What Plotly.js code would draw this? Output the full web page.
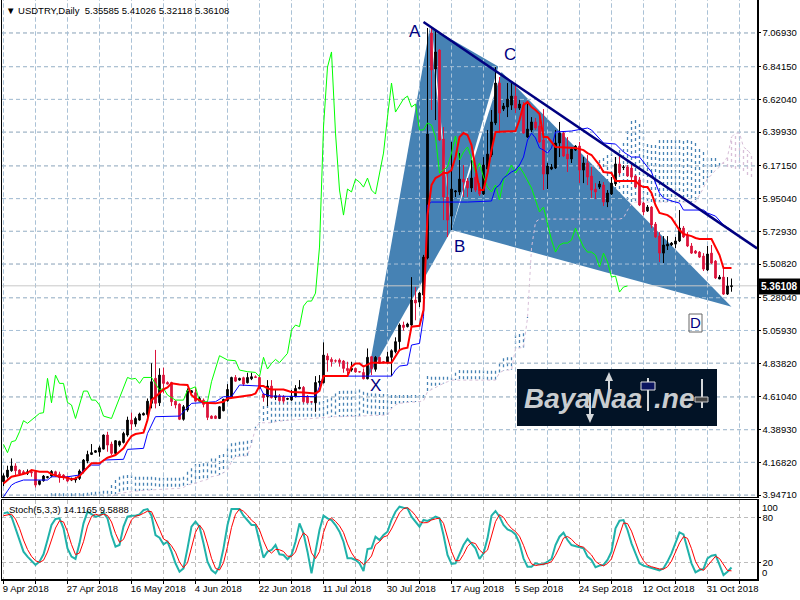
<!DOCTYPE html>
<html><head><meta charset="utf-8">
<script src="https://cdn.plot.ly/plotly-3.0.1.min.js"></script>
<style>html,body{margin:0;padding:0;background:#fff}#c{width:800px;height:600px}</style>
</head><body><div id="c"></div>
<script>
const openP=[4.038,4.071,4.112,4.144,4.116,4.105,4.094,4.105,4.105,4.020,
4.044,4.065,4.076,4.105,4.089,4.083,4.067,4.049,4.049,4.060,
4.105,4.177,4.222,4.236,4.238,4.258,4.353,4.292,4.229,4.285,
4.303,4.353,4.454,4.427,4.454,4.488,4.492,4.567,4.736,4.571,
4.758,4.708,4.708,4.582,4.562,4.459,4.522,4.639,4.639,4.582,
4.589,4.571,4.481,4.481,4.465,4.517,4.585,4.607,4.742,4.724,
4.740,4.706,4.733,4.747,4.742,4.630,4.612,4.684,4.607,4.618,
4.612,4.594,4.589,4.612,4.666,4.675,4.616,4.578,4.571,4.708,
4.706,4.887,4.864,4.855,4.860,4.853,4.803,4.792,4.803,4.781,
4.776,4.733,4.882,4.797,4.878,4.848,4.842,4.878,4.916,4.984,
5.096,5.085,5.096,5.265,5.251,5.299,5.549,7.069,6.826,6.954,
6.353,5.961,5.832,5.995,5.995,6.082,6.069,6.022,6.096,6.028,
5.981,6.150,6.245,6.461,6.731,6.555,6.569,6.582,6.643,6.562,
6.582,6.366,6.414,6.468,6.441,6.346,6.116,6.150,6.157,6.326,
6.393,6.251,6.218,6.278,6.305,6.143,6.191,6.103,6.015,6.028,
6.042,5.927,5.981,6.049,6.184,6.160,6.164,6.157,6.103,6.076,
5.920,5.866,5.893,5.778,5.697,5.582,5.630,5.637,5.643,5.664,
5.751,5.704,5.630,5.596,5.589,5.562,5.468,5.582,5.528,5.407,
5.420,5.305,5.35585];
const highP=[4.094,4.146,4.195,4.162,4.121,4.116,4.121,4.116,4.112,4.049,
4.083,4.076,4.116,4.112,4.105,4.089,4.076,4.065,4.071,4.121,
4.191,4.247,4.292,4.252,4.281,4.357,4.375,4.308,4.319,4.315,
4.375,4.477,4.504,4.477,4.504,4.506,4.600,4.838,4.928,4.804,
4.808,4.716,4.713,4.589,4.567,4.556,4.668,4.657,4.675,4.612,
4.600,4.578,4.486,4.486,4.549,4.598,4.697,4.747,4.758,4.740,
4.747,4.774,4.774,4.756,4.751,4.634,4.724,4.724,4.657,4.630,
4.623,4.605,4.657,4.690,4.724,4.684,4.623,4.582,4.751,4.758,
4.979,4.905,4.878,4.864,4.871,4.860,4.848,4.848,4.808,4.785,
4.803,4.938,4.887,4.887,4.882,4.853,4.916,4.932,5.013,5.107,
5.119,5.112,5.420,5.353,5.319,5.570,7.103,7.110,7.089,6.961,
6.434,6.123,6.333,6.008,6.258,6.177,6.089,6.211,6.164,6.055,
6.231,6.414,6.549,6.839,6.772,6.596,6.731,6.731,6.731,6.616,
6.603,6.596,6.501,6.495,6.528,6.555,6.191,6.184,6.414,6.468,
6.407,6.366,6.299,6.312,6.333,6.231,6.245,6.164,6.055,6.069,
6.062,6.008,6.096,6.231,6.238,6.177,6.177,6.177,6.109,6.096,
5.927,5.907,5.900,5.792,5.724,5.697,5.697,5.657,5.691,5.873,
5.765,5.724,5.650,5.603,5.596,5.582,5.630,5.637,5.535,5.434,
5.481,5.420,5.41026];
const lowP=[4.008,4.060,4.105,4.083,4.083,4.083,4.083,4.071,3.999,4.013,
4.038,4.060,4.067,4.071,4.031,4.049,4.035,4.042,4.031,4.049,
4.094,4.162,4.218,4.234,4.207,4.256,4.240,4.218,4.225,4.274,
4.296,4.342,4.386,4.409,4.450,4.486,4.472,4.533,4.533,4.549,
4.634,4.695,4.549,4.533,4.454,4.450,4.510,4.634,4.578,4.578,
4.540,4.454,4.461,4.461,4.461,4.513,4.578,4.600,4.713,4.720,
4.684,4.702,4.724,4.738,4.662,4.578,4.549,4.600,4.589,4.578,
4.567,4.589,4.582,4.607,4.662,4.567,4.567,4.571,4.510,4.684,
4.702,4.781,4.815,4.842,4.815,4.774,4.758,4.781,4.774,4.776,
4.729,4.729,4.758,4.781,4.833,4.837,4.837,4.751,4.905,4.927,
5.058,5.080,5.085,5.128,5.218,5.290,5.540,6.549,6.481,6.339,
5.805,5.691,5.738,5.961,5.974,5.961,5.961,5.995,5.995,5.968,
5.974,6.123,6.231,6.447,6.393,6.542,6.501,6.549,6.528,6.549,
6.387,6.360,6.400,6.414,6.326,6.008,6.015,6.143,6.150,6.231,
6.231,6.130,6.191,6.272,6.055,6.055,6.042,5.954,5.947,6.015,
5.900,5.893,5.974,6.035,6.109,6.143,6.096,6.076,6.022,5.900,
5.839,5.860,5.751,5.684,5.522,5.515,5.603,5.630,5.616,5.657,
5.684,5.623,5.576,5.576,5.549,5.461,5.461,5.508,5.407,5.407,
5.299,5.299,5.32118];
const closeP=[4.078,4.116,4.144,4.112,4.089,4.094,4.105,4.098,4.015,4.044,
4.076,4.071,4.107,4.083,4.065,4.067,4.042,4.060,4.060,4.110,
4.184,4.222,4.234,4.247,4.267,4.353,4.285,4.229,4.315,4.310,
4.364,4.454,4.427,4.465,4.495,4.499,4.582,4.713,4.567,4.758,
4.702,4.697,4.578,4.556,4.459,4.544,4.652,4.652,4.582,4.600,
4.560,4.472,4.465,4.465,4.544,4.594,4.661,4.742,4.717,4.736,
4.697,4.742,4.747,4.742,4.668,4.607,4.684,4.605,4.618,4.585,
4.582,4.600,4.616,4.668,4.675,4.578,4.571,4.576,4.708,4.717,
4.893,4.860,4.848,4.853,4.844,4.803,4.788,4.803,4.779,4.779,
4.733,4.878,4.803,4.878,4.837,4.846,4.882,4.923,4.984,5.096,
5.080,5.103,5.265,5.245,5.312,5.555,6.387,6.819,6.941,6.346,
5.961,5.805,6.015,6.002,6.082,6.062,6.022,6.089,6.008,5.981,
6.177,6.251,6.468,6.731,6.528,6.576,6.623,6.643,6.562,6.589,
6.393,6.420,6.468,6.427,6.333,6.116,6.170,6.164,6.326,6.393,
6.238,6.218,6.285,6.305,6.143,6.191,6.096,6.008,5.995,6.049,
5.927,5.988,6.055,6.184,6.123,6.164,6.103,6.096,6.028,5.907,
5.860,5.893,5.772,5.691,5.582,5.637,5.643,5.650,5.664,5.751,
5.691,5.630,5.582,5.582,5.555,5.474,5.576,5.515,5.414,5.420,
5.305,5.360,5.36108];

const redIdx=[0,2,4,6,7,9,11,12,14,16,17,18,19,20,21,22,24,25,26,28,29,30,31,32,33,35,36,37,38,39,40,41,42,44,46,47,48,49,50,53,55,56,58,60,62,63,64,65,66,67,70,71,72,75,78,79,80,86,87,88,89,90,91,92,97,98,99,100,101,102,104,105,106,107,108,109,110,111,112,113,114,115,116,117,118,119,120,121,122,123,128,129,130,131,132,133,134,135,136,137,138,143,144,145,146,147,148,149,150,152,153,158,159,160,161,162,163,164,166,167,168,169,170,171,172,173,174,177,178,179,180,182];
const redVal=[4.026,4.071,4.083,4.098,4.116,4.105,4.105,4.089,4.071,4.065,4.053,4.060,4.076,4.105,4.139,4.162,4.162,4.184,4.200,4.218,4.240,4.263,4.308,4.346,4.360,4.369,4.454,4.589,4.612,4.634,4.661,4.675,4.702,4.695,4.691,4.623,4.600,4.589,4.571,4.567,4.578,4.600,4.607,4.616,4.623,4.634,4.684,4.684,4.668,4.661,4.661,4.652,4.643,4.641,4.634,4.652,4.751,4.751,4.815,4.837,4.837,4.815,4.826,4.842,4.842,4.882,4.927,4.938,4.943,5.085,5.091,5.197,5.839,6.042,6.089,6.103,6.123,6.123,6.143,6.231,6.366,6.393,6.380,6.312,6.157,6.008,6.008,6.123,6.278,6.400,6.407,6.481,6.582,6.603,6.569,6.549,6.522,6.366,6.366,6.333,6.299,6.292,6.285,6.278,6.258,6.245,6.211,6.177,6.130,6.123,6.069,6.069,6.042,6.028,6.028,5.988,5.907,5.853,5.839,5.819,5.778,5.738,5.711,5.704,5.697,5.684,5.677,5.677,5.623,5.569,5.481,5.481];

const blueIdx=[0,2,3,5,11,12,16,19,20,22,24,25,30,31,35,36,38,44,47,53,55,57,59,64,65,66,67,78,79,80,97,98,99,101,102,104,105,106,107,116,122,123,124,125,126,127,128,129,130,131,132,133,134,135,136,137,138,142,146,147,150,153,155,157,159,160,162,163,164,165,167,169,170,175,176,178,179,180,182];
const blueVal=[3.936,4.015,4.031,4.049,4.049,4.071,4.071,4.083,4.116,4.150,4.150,4.184,4.189,4.256,4.263,4.364,4.477,4.481,4.567,4.578,4.612,4.612,4.691,4.684,4.630,4.623,4.616,4.612,4.679,4.751,4.751,4.792,4.819,4.826,4.961,4.972,5.152,5.907,5.927,5.927,5.934,6.022,6.042,6.089,6.109,6.130,6.143,6.177,6.231,6.346,6.393,6.360,6.292,6.278,6.258,6.292,6.400,6.407,6.427,6.414,6.326,6.319,6.265,6.231,6.231,6.197,6.130,6.055,5.988,5.954,5.934,5.920,5.873,5.873,5.853,5.832,5.805,5.772,5.738];

const greenIdx=[0,1,2,3,4,5,6,8,9,10,11,12,13,14,15,16,17,18,20,21,22,23,24,25,27,31,32,33,34,35,37,39,40,41,43,45,46,48,49,51,52,54,56,58,59,61,63,64,65,66,67,68,69,71,72,73,74,75,76,77,78,79,80,81,82,83,84,85,86,87,88,89,90,91,92,93,94,95,96,97,98,99,100,101,102,103,104,105,106,107,108,109,110,111,112,113,114,115,116,117,118,119,120,121,122,123,124,125,126,127,128,129,130,131,132,133,134,135,136,137,138,139,140,141,142,143,144,145,146,147,148,149,150,151,152,153,154,155,156];
const greenVal=[4.290,4.234,4.308,4.315,4.375,4.450,4.432,4.477,4.499,4.504,4.736,4.571,4.758,4.702,4.702,4.573,4.556,4.465,4.650,4.650,4.589,4.589,4.556,4.481,4.465,4.742,4.731,4.736,4.702,4.742,4.742,4.657,4.668,4.623,4.589,4.589,4.657,4.679,4.578,4.578,4.713,4.889,4.860,4.855,4.792,4.781,4.776,4.747,4.878,4.799,4.837,4.864,4.842,4.905,5.062,5.096,5.085,5.224,5.258,5.258,5.312,5.623,6.434,6.839,6.941,6.393,6.008,5.839,6.015,5.995,6.082,6.062,6.028,6.089,6.008,5.981,6.130,6.258,6.501,6.731,6.535,6.582,6.623,6.643,6.569,6.589,6.414,6.414,6.461,6.447,6.366,6.123,6.143,6.164,6.258,6.373,6.211,6.265,6.299,6.224,6.123,6.191,6.096,6.028,5.995,6.042,5.941,6.076,6.123,6.177,6.123,6.164,6.123,6.076,6.022,5.941,5.860,5.893,5.785,5.670,5.589,5.637,5.650,5.650,5.670,5.751,5.684,5.623,5.589,5.589,5.569,5.488,5.582,5.522,5.420,5.427,5.319,5.353,5.360];

const spanStart=11;
const spanA=[3.936,3.959,3.959,3.959,3.959,3.959,3.959,3.959,3.959,3.959,
3.963,3.966,3.970,3.972,3.977,3.977,4.015,4.049,4.071,4.080,
4.083,4.083,4.071,4.071,4.071,4.071,4.071,4.067,4.065,4.065,
4.065,4.065,4.065,4.065,4.071,4.105,4.128,4.157,4.157,4.162,
4.162,4.195,4.195,4.218,4.225,4.263,4.297,4.301,4.308,4.310,
4.315,4.319,4.409,4.522,4.549,4.556,4.578,4.578,4.578,4.578,
4.578,4.578,4.578,4.578,4.578,4.578,4.578,4.578,4.578,4.583,
4.594,4.607,4.634,4.650,4.652,4.652,4.652,4.652,4.661,4.646,
4.639,4.634,4.634,4.630,4.630,4.628,4.623,4.623,4.623,4.623,
4.623,4.623,4.623,4.623,4.623,4.751,4.747,4.747,4.747,4.747,
4.747,4.742,4.774,4.792,4.790,4.790,4.790,4.790,4.790,4.790,
4.788,4.788,4.788,4.837,4.871,4.878,4.878,5.029,5.035,5.040,
5.150,5.873,5.988,6.008,6.015,6.028,6.035,6.035,6.076,6.143,
6.157,6.157,6.123,6.042,5.968,5.968,6.028,6.103,6.211,6.224,
6.245,6.258,6.272,6.278,6.326,6.407,6.474,6.481,6.454,6.407,
6.319,6.312,6.312,6.346,6.346,6.346,6.346,6.346,6.346,6.339,
6.346,6.339,6.326,6.285,6.265,6.224,6.224,6.224,6.191,6.184,
6.164,6.157,6.150,6.150,6.137,6.109,6.096,6.055];
const spanB=[3.914,3.914,3.914,3.914,3.914,3.914,3.914,3.914,3.914,3.914,
3.914,3.914,3.914,3.914,3.914,3.914,3.936,3.954,3.959,3.963,
3.968,3.970,3.975,3.977,3.979,3.981,3.981,3.984,3.986,3.986,
3.988,3.990,3.990,3.993,3.999,4.015,4.022,4.026,4.038,4.044,
4.053,4.071,4.078,4.083,4.098,4.116,4.173,4.207,4.209,4.211,
4.213,4.297,4.398,4.436,4.436,4.436,4.436,4.443,4.448,4.450,
4.452,4.454,4.459,4.461,4.463,4.465,4.468,4.470,4.472,4.472,
4.475,4.475,4.477,4.477,4.477,4.477,4.479,4.479,4.481,4.481,
4.484,4.484,4.486,4.486,4.488,4.488,4.533,4.556,4.567,4.571,
4.574,4.576,4.576,4.578,4.583,4.646,4.661,4.675,4.691,4.702,
4.713,4.724,4.724,4.724,4.724,4.724,4.724,4.724,4.724,4.724,
4.724,4.724,4.724,4.774,4.788,4.792,4.792,4.938,4.943,4.945,
5.143,5.616,5.792,5.812,5.812,5.812,5.812,5.812,5.812,5.812,
5.812,5.812,5.812,5.812,5.812,5.812,5.812,5.812,5.812,5.812,
5.812,5.812,5.812,5.812,5.819,5.873,5.914,5.927,5.927,5.927,
5.927,5.927,5.927,5.927,5.927,5.927,5.927,5.927,5.927,5.927,
5.927,5.927,5.927,5.974,6.022,6.089,6.109,6.143,6.164,6.197,
6.231,6.366,6.393,6.393,6.299,6.278,6.245];

const stochK=[85.7,87.0,81.3,65.9,50.4,35.0,28.4,23.1,17.4,21.8,31.5,50.4,70.3,78.2,79.1,65.9,39.4,28.4,25.3,46.0,
72.5,87.9,84.4,81.3,82.6,87.0,79.1,57.0,41.6,43.8,68.1,81.3,82.6,82.6,84.4,90.1,91.4,82.6,57.0,53.5,
44.7,48.2,35.0,19.6,8.5,12.9,39.4,68.1,74.7,68.1,46.0,21.8,10.7,6.3,15.1,39.4,70.3,91.4,91.4,91.4,
82.6,76.9,70.3,70.3,50.4,27.1,35.0,37.2,43.8,31.5,30.6,24.9,30.6,48.2,72.5,59.2,35.0,6.3,35.0,63.7,
82.6,79.1,76.9,70.3,61.5,48.2,26.2,26.2,24.0,19.6,9.4,38.5,39.4,54.8,50.4,57.0,61.5,76.9,87.9,94.5,
93.2,92.3,81.3,74.7,68.1,76.9,75.6,78.2,81.3,79.1,57.0,30.6,18.7,19.6,30.6,43.8,51.8,46.0,39.4,25.3,
32.8,52.6,82.6,88.8,81.3,70.3,64.5,62.3,57.9,46.0,26.2,15.1,15.1,19.6,18.2,18.2,21.8,25.3,43.8,54.8,
60.1,50.4,43.8,42.5,40.7,39.4,28.4,24.0,14.3,16.5,17.4,24.0,35.0,65.9,76.0,76.9,63.7,46.0,32.8,19.6,
16.5,15.1,13.8,12.1,10.3,12.9,21.8,32.8,46.0,60.6,57.9,39.4,19.6,7.7,10.7,12.1,26.2,29.7,30.6,17.4,
4.1,8.5,14.1];
const stochD=[82.6,84.0,84.7,78.1,65.9,50.4,37.9,28.8,23.0,20.8,23.6,34.6,50.7,66.3,75.9,74.4,61.5,44.4,31.1,33.2,
48.2,68.8,81.6,84.5,83.1,84.5,82.9,74.3,59.2,47.5,51.2,64.3,77.2,82.0,83.2,85.8,88.6,88.0,77.0,64.4,
51.8,48.8,42.7,34.3,21.1,13.7,20.3,40.1,60.7,70.3,62.9,45.3,26.2,12.9,10.7,20.3,41.6,67.1,84.4,91.4,
88.5,83.3,76.6,72.5,63.7,49.3,37.5,33.1,38.0,37.5,35.3,29.0,28.7,34.6,50.4,59.9,55.6,33.5,25.8,35.0,
60.4,75.1,79.5,75.2,69.2,60.3,45.3,33.5,25.5,23.3,17.7,22.5,29.2,44.2,48.2,54.4,56.3,65.0,75.8,86.4,
91.9,93.3,88.9,82.8,74.7,73.2,73.5,76.9,78.4,79.5,72.5,55.6,35.4,23.0,23.0,31.3,42.0,47.2,45.7,37.2,
32.5,37.0,56.0,74.7,84.0,80.5,72.0,65.7,61.6,55.4,43.4,29.1,18.8,16.6,17.6,18.7,19.4,21.8,30.3,41.0,
52.9,55.1,51.4,45.6,42.3,40.9,36.2,30.6,22.2,18.3,16.1,19.3,25.5,41.6,59.0,73.0,72.2,62.2,47.5,32.8,
23.0,17.1,15.1,13.7,12.1,11.8,15.0,22.5,33.5,46.5,54.8,52.6,39.0,22.2,12.7,10.2,16.3,22.7,28.8,25.9,
17.4,10.0,9.6];

const priceTicks=[7.0693,6.8415,6.6204,6.3993,6.1715,5.9504,5.7293,5.5082,5.2804,5.0593,4.8382,4.6104,4.3893,4.1682,3.9471];
const priceTickText=['7.06930','6.84150','6.62040','6.39930','6.17150','5.95040','5.72930','5.50820','5.28040','5.05930','4.83820','4.61040','4.38930','4.16820','3.94710'];
const dateTickIdx=[0,8,16,24,32,40,48,56,64,72,80,88,96,104,112,120,128,136,144,152,160,168,176,184];
const dateTickText=['9 Apr 2018','','27 Apr 2018','','16 May 2018','','4 Jun 2018','','22 Jun 2018','','11 Jul 2018','','30 Jul 2018','','17 Aug 2018','','5 Sep 2018','','24 Sep 2018','','12 Oct 2018','','31 Oct 2018',''];

// harmonic pattern vertices (bar index, price)
const triXABx=[91,106.6,112], triXABy=[4.738,7.110,5.738];
const triABCx=[107.1,112,123.7], triABCy=[7.102,5.738,6.843];
const triBCDx=[112,124.5,182], triBCDy=[5.738,6.806,5.220];
const trendX=[105,188.4], trendY=[7.143,5.614];
const lastPrice=5.36108;

const FONT="'Liberation Sans',sans-serif";
const GRID='#bcbcbc';
const barIdx=closeP.map((_,i)=>i);
const xR=[-0.375,188.375], yR=[3.931,7.292];

function hatch(cond){
  const xs=[],ys=[];
  spanA.forEach((a,k)=>{ if(cond(a,spanB[k])){ xs.push(k+spanStart,k+spanStart,null); ys.push(a,spanB[k],null);} });
  return {x:xs,y:ys};
}
const hUp=hatch((a,b)=>a>=b), hDn=hatch((a,b)=>a<b);
const spanX=spanA.map((_,k)=>k+spanStart);
const gridX=[],gridY=[];
priceTicks.forEach(p=>{gridX.push(xR[0],xR[1],null);gridY.push(p,p,null);});
dateTickIdx.forEach(d=>{gridX.push(d,d,null);gridY.push(yR[0],yR[1],null);});

const B={xaxis:'x2',yaxis:'y',mode:'lines',hoverinfo:'skip',showlegend:false};
const T={xaxis:'x3',yaxis:'y3',mode:'lines',hoverinfo:'skip',showlegend:false};
const S={xaxis:'x',yaxis:'y2',mode:'lines',hoverinfo:'skip',showlegend:false};
const FILL='#4682B4';
const poly=(x,y)=>({...B,x:x,y:y,fill:'toself',fillcolor:FILL,line:{width:0}});

const traces=[
 {...B,x:gridX,y:gridY,line:{color:GRID,width:1,dash:'4px,3px'}},
 {...B,x:hUp.x,y:hUp.y,line:{color:'#4682B4',width:1.3,dash:'dot'}},
 {...B,x:hDn.x,y:hDn.y,line:{color:'#D8BFD8',width:1.3,dash:'dot'}},
 poly(triXABx,triXABy),poly(triABCx,triABCy),poly(triBCDx,triBCDy),
 {...B,x:gridX,y:gridY,line:{color:'#a9c2d8',width:1,dash:'4px,3px'}},
 {...B,x:spanX,y:spanB,line:{color:'#D8BFD8',width:1,dash:'dot'}},
 {...B,x:xR,y:[lastPrice,lastPrice],line:{color:'#c8c8c8',width:1}},
 {type:'candlestick',xaxis:'x3',yaxis:'y3',x:barIdx,open:openP,high:highP,low:lowP,close:closeP,
  increasing:{line:{color:'#000',width:1},fillcolor:'#000'},
  decreasing:{line:{color:'#DC143C',width:1},fillcolor:'#DC143C'},
  whiskerwidth:0,hoverinfo:'skip',showlegend:false},
 {...T,x:greenIdx,y:greenVal,line:{color:'#00ff00',width:1}},
 {...T,x:blueIdx,y:blueVal,line:{color:'#0000ff',width:1}},
 {...T,x:redIdx,y:redVal,line:{color:'#ff0000',width:2}},
 {...T,x:trendX,y:trendY,line:{color:'#000080',width:2.5}},
 {...S,x:barIdx,y:stochK,line:{color:'#20B2AA',width:2}},
 {...S,x:barIdx,y:stochD,line:{color:'#ff0000',width:1}}
];

const X=x=>(x-2)/755, Y=y=>1-y/579;
const rectPx=(a,b,c,d,fill,lc)=>({type:'rect',xref:'paper',yref:'paper',x0:X(a),x1:X(c),y0:Y(b),y1:Y(d),fillcolor:fill,line:{color:lc||fill,width:lc?1:0},layer:'above'});
const linePx=(a,b,c,d,col,w)=>({type:'line',xref:'paper',yref:'paper',x0:X(a),x1:X(c),y0:Y(b),y1:Y(d),line:{color:col,width:w},layer:'above'});
const shapes=[
 rectPx(517,369,717,426,'#021326'),
 linePx(590,393,590,420,'#d5d8da',2),
 {type:'path',xref:'paper',yref:'paper',layer:'above',fillcolor:'#d5d8da',line:{width:0},path:`M ${X(586)} ${Y(414)} L ${X(594)} ${Y(414)} L ${X(590)} ${Y(423)} Z`},
 linePx(609,380,609,394,'#d5d8da',2),
 {type:'path',xref:'paper',yref:'paper',layer:'above',fillcolor:'#d5d8da',line:{width:0},path:`M ${X(605)} ${Y(381)} L ${X(613)} ${Y(381)} L ${X(609)} ${Y(372)} Z`},
 linePx(648,378,648,411,'#d5d8da',2),
 rectPx(641,382,655,390,'#0b1560','#e0e0e0'),
 linePx(702,379,702,408,'#d5d8da',2),
 rectPx(695,397,708,402,'#444444','#c8c8c8'),
 rectPx(689,314,702,332,'rgba(0,0,0,0)','#666666')
];
const ann=(x,y,text,o)=>Object.assign({xref:'paper',yref:'paper',x:X(x),y:Y(y),text:text,showarrow:false,xanchor:'left',yanchor:'middle',font:{family:FONT,size:9.5,color:'#000'}},o||{});
const lab=(i,p,t,extra)=>Object.assign({xref:'x2',yref:'y',x:i,y:p,text:t,showarrow:false,font:{family:FONT,size:17,color:'#000080'}},extra||{});
const annotations=[
 ann(4,10,'▼ USDTRY,Daily  5.35585 5.41026 5.32118 5.36108'),
 ann(7,509,'Stoch(5,3,3) 14.1165 9.5888'),
 ann(760,507,'100'),ann(760,572,'0'),
 ann(758,286,'5.36108',{bgcolor:'#000',borderpad:2,font:{family:FONT,size:10,color:'#fff',weight:700}}),
 lab(102.9,7.082,'A'),lab(114,5.630,'B'),lab(126.6,6.927,'C'),lab(92.9,4.690,'X'),
 lab(172.9,5.116,'D',{font:{family:FONT,size:15,color:'#000080'}}),
 ann(522,398,'BayaNaa',{font:{family:FONT,size:28,color:'#c9cdd0',weight:700,style:'italic'}}),
 ann(652,398,'.ne',{font:{family:FONT,size:28,color:'#c9cdd0',weight:700,style:'italic'}})
];

const layout={
 width:800,height:600,margin:{l:2,r:43,t:0,b:21},paper_bgcolor:'#fff',plot_bgcolor:'#fff',showlegend:false,
 boxgap:0.4,
 font:{family:FONT,size:9.5,color:'#000'},
 xaxis:{domain:[0,1],anchor:'y2',range:xR,type:'linear',tickmode:'array',tickvals:dateTickIdx,ticktext:dateTickText,ticklabelposition:'outside right',ticklabelshift:-2,
   showgrid:true,gridcolor:GRID,griddash:'4px,3px',gridwidth:1,zeroline:false,showline:true,linecolor:'#000',linewidth:1.5,mirror:true,ticks:'outside',ticklen:3,tickcolor:'#000',tickangle:0,tickfont:{family:FONT,size:9.5}},
 yaxis2:{domain:[0,0.13644],anchor:'x',side:'right',range:[-1.2,103.4],tickmode:'array',tickvals:[80,20],ticktext:['80','20'],showgrid:true,gridcolor:GRID,griddash:'4px,3px',zeroline:false,showline:true,linecolor:'#000',linewidth:1.5,mirror:true,ticks:'outside',ticklen:2,tickcolor:'#000',tickfont:{family:FONT,size:9.5}},
 xaxis2:{domain:[0,1],anchor:'y',range:xR,type:'linear',showgrid:false,zeroline:false,showticklabels:false,ticks:'',showline:true,linecolor:'#000',linewidth:1},
 yaxis:{domain:[0.14076,1],anchor:'x2',side:'right',range:yR,tickmode:'array',tickvals:priceTicks,ticktext:priceTickText,showgrid:false,zeroline:false,showline:true,linecolor:'#000',linewidth:1.5,mirror:true,ticks:'outside',ticklen:2,tickcolor:'#000',tickfont:{family:FONT,size:9.5}},
 xaxis3:{overlaying:'x2',anchor:'y3',range:xR,type:'linear',visible:false,rangeslider:{visible:false}},
 yaxis3:{overlaying:'y',anchor:'x3',side:'right',range:yR,visible:false},
 shapes:shapes,annotations:annotations
};
Plotly.newPlot('c',traces,layout,{displayModeBar:false,staticPlot:true});
</script></body></html>
